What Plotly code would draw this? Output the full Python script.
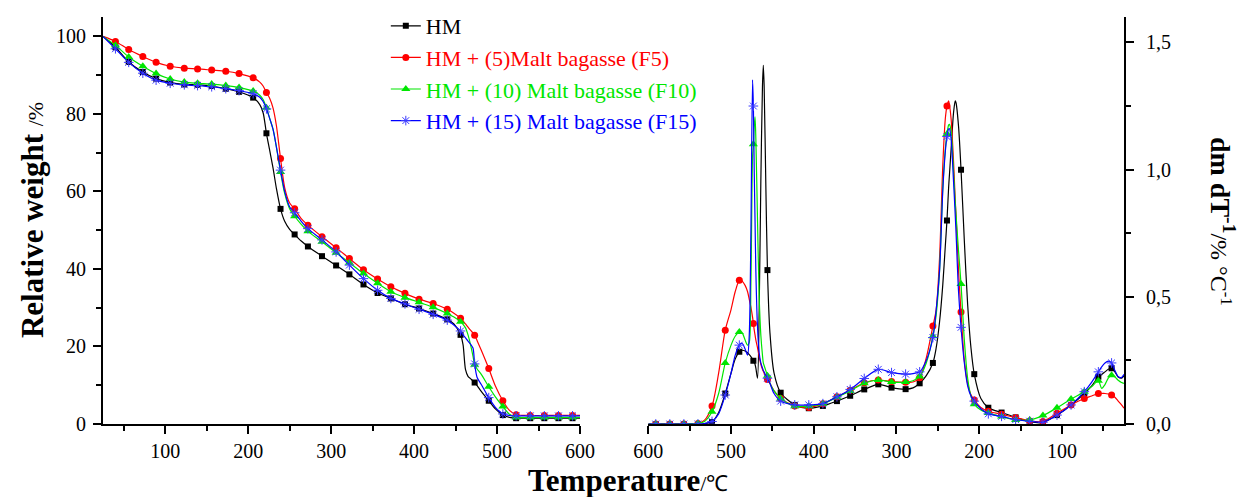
import plotly.graph_objects as go

# ---------------- TGA (relative weight, %) ----------------
TGA_T = [25, 40, 56, 73, 89, 106, 123, 139, 156,
         173, 189, 206, 214, 218, 222, 226, 230, 234,
         239, 244, 250, 256, 264, 272, 289, 306, 322,
         339, 356, 372, 389, 406, 423, 440, 448, 456,
         459, 462, 465, 468, 471, 473, 476, 481, 490,
         498, 507, 515, 523, 540, 557, 574, 591, 600]

TGA_HM = [100.0, 97.2, 93.4, 90.8, 89.1, 88.1, 87.6, 87.5, 87.2,
          86.5, 85.7, 84.2, 82.4, 80.3, 75.0, 70.5, 66.0, 60.8,
          55.5, 52.3, 50.2, 48.9, 47.2, 45.8, 43.3, 40.9, 38.6,
          36.0, 33.8, 32.4, 30.9, 29.8, 28.5, 27.0, 25.8, 23.0,
          20.5, 14.0, 12.3, 11.7, 11.1, 10.7, 9.9, 8.4, 6.0,
          3.9, 2.3, 1.7, 1.5, 1.5, 1.5, 1.5, 1.5, 1.5]

TGA_F5 = [100.0, 98.7, 96.6, 94.8, 93.3, 92.3, 91.8, 91.6, 91.3,
          91.0, 90.4, 89.3, 88.2, 87.2, 85.5, 84.0, 81.5, 77.0,
          68.5, 61.0, 57.0, 55.5, 53.0, 51.3, 48.3, 45.5, 42.7,
          39.8, 37.4, 35.4, 33.7, 32.2, 31.1, 29.6, 28.6, 27.3,
          26.6, 25.8, 25.0, 24.2, 23.5, 22.9, 21.5, 19.0, 14.3,
          9.8, 6.0, 3.5, 2.4, 2.2, 2.2, 2.2, 2.2, 2.2]

TGA_F10 = [100.0, 97.7, 94.7, 92.3, 90.4, 89.0, 88.2, 87.9, 87.7,
           87.3, 86.8, 85.9, 84.8, 83.7, 81.6, 78.8, 76.0, 71.5,
           65.0, 59.5, 55.5, 53.6, 51.5, 49.7, 47.0, 44.2, 41.6,
           38.8, 36.3, 34.1, 32.6, 31.4, 30.1, 28.5, 27.6, 26.4,
           25.7, 24.8, 23.0, 20.5, 17.5, 15.3, 14.2, 12.8, 9.6,
           7.0, 4.5, 2.5, 1.7, 1.7, 1.7, 1.7, 1.7, 1.7]

TGA_F15 = [100.0, 96.8, 93.3, 90.5, 88.7, 87.9, 87.5, 87.3, 87.0,
           86.5, 86.0, 85.2, 84.3, 83.2, 81.3, 78.8, 76.0, 71.5,
           65.5, 60.0, 56.0, 54.5, 52.3, 50.4, 47.5, 44.4, 41.0,
           37.5, 34.5, 32.4, 31.0, 29.6, 28.3, 26.8, 25.5, 24.0,
           23.0, 22.2, 21.4, 20.6, 19.6, 15.5, 12.0, 10.2, 6.8,
           4.3, 2.6, 2.2, 2.1, 2.1, 2.1, 2.1, 2.1, 2.1]

# ---------------- DTG (dm/dT, % per degC) ----------------
DTG_T = [25, 28, 32, 36, 40, 44, 48, 52, 56,
         64, 73, 89, 106, 123, 139, 156, 173, 189,
         198, 206, 210, 214, 218, 222, 225, 228, 229,
         231, 234, 236, 237, 239, 241, 244, 248, 252,
         256, 264, 272, 280, 289, 306, 322, 339, 356,
         372, 389, 406, 423, 440, 448, 453, 456, 458,
         460, 461, 462, 464, 466, 468, 470, 471, 472,
         473, 474, 476, 478, 480, 483, 486, 488, 490,
         495, 500, 507, 515, 523, 532, 540, 557, 574,
         591, 600]

DTG_HM = [0.190, 0.180, 0.185, 0.205, 0.219, 0.215, 0.205, 0.195, 0.186,
          0.150, 0.120, 0.075, 0.035, 0.006, 0.009, 0.026, 0.045, 0.064,
          0.100, 0.196, 0.300, 0.470, 0.720, 1.000, 1.170, 1.262, 1.270,
          1.225, 1.080, 0.980, 0.930, 0.800, 0.700, 0.550, 0.400, 0.300,
          0.240, 0.190, 0.160, 0.142, 0.137, 0.143, 0.156, 0.136, 0.111,
          0.090, 0.071, 0.062, 0.075, 0.123, 0.200, 0.360, 0.605, 0.950,
          1.330, 1.410, 1.330, 0.950, 0.450, 0.180, 0.220, 0.235, 0.243,
          0.249, 0.255, 0.265, 0.273, 0.280, 0.287, 0.290, 0.288, 0.284,
          0.255, 0.200, 0.120, 0.045, 0.008, 0.002, 0.000, 0.000, 0.000,
          0.000, 0.000]

DTG_F5 = [0.062, 0.075, 0.090, 0.105, 0.114, 0.118, 0.120, 0.120, 0.120,
          0.110, 0.100, 0.075, 0.042, 0.010, 0.012, 0.025, 0.038, 0.050,
          0.065, 0.094, 0.115, 0.160, 0.250, 0.440, 0.600, 0.820, 0.880,
          1.030, 1.200, 1.255, 1.270, 1.250, 1.200, 1.020, 0.650, 0.450,
          0.385, 0.260, 0.182, 0.165, 0.164, 0.167, 0.173, 0.162, 0.133,
          0.107, 0.080, 0.065, 0.071, 0.100, 0.130, 0.160, 0.175, 0.185,
          0.200, 0.207, 0.215, 0.235, 0.265, 0.300, 0.330, 0.350, 0.370,
          0.395, 0.420, 0.460, 0.490, 0.520, 0.545, 0.560, 0.565, 0.565,
          0.520, 0.450, 0.369, 0.200, 0.071, 0.015, 0.002, 0.000, 0.000,
          0.000, 0.000]

DTG_F10 = [0.160, 0.163, 0.172, 0.185, 0.192, 0.180, 0.155, 0.140, 0.170,
           0.147, 0.127, 0.098, 0.064, 0.033, 0.016, 0.016, 0.029, 0.043,
           0.055, 0.078, 0.110, 0.180, 0.330, 0.550, 0.680, 0.820, 0.870,
           0.990, 1.150, 1.178, 1.175, 1.140, 1.080, 0.930, 0.600, 0.430,
           0.345, 0.240, 0.187, 0.170, 0.165, 0.165, 0.173, 0.160, 0.130,
           0.105, 0.080, 0.070, 0.070, 0.100, 0.130, 0.160, 0.190, 0.210,
           0.230, 0.240, 0.270, 0.350, 0.500, 0.800, 1.120, 1.207, 1.170,
           1.100, 1.050, 0.550, 0.320, 0.310, 0.330, 0.355, 0.360, 0.362,
           0.345, 0.310, 0.240, 0.120, 0.048, 0.010, 0.002, 0.000, 0.000,
           0.000, 0.000]

DTG_F15 = [0.195, 0.183, 0.186, 0.210, 0.240, 0.247, 0.240, 0.225, 0.205,
           0.165, 0.127, 0.075, 0.035, 0.007, 0.011, 0.017, 0.030, 0.040,
           0.060, 0.090, 0.110, 0.150, 0.240, 0.380, 0.520, 0.750, 0.820,
           0.950, 1.120, 1.161, 1.160, 1.130, 1.070, 0.920, 0.600, 0.450,
           0.340, 0.250, 0.205, 0.198, 0.196, 0.202, 0.215, 0.179, 0.136,
           0.107, 0.080, 0.075, 0.075, 0.090, 0.120, 0.160, 0.180, 0.190,
           0.205, 0.210, 0.220, 0.240, 0.280, 0.380, 0.600, 0.800, 1.000,
           1.250, 1.353, 0.750, 0.350, 0.271, 0.295, 0.315, 0.317, 0.310,
           0.270, 0.200, 0.114, 0.040, 0.010, 0.002, 0.000, 0.000, 0.000,
           0.000, 0.000]

# temperatures at which symbols are placed along each curve
MARK_T = [40, 56, 73, 89, 106, 123, 139, 156, 173, 189, 206, 222, 239, 256,
          272, 289, 306, 322, 339, 356, 372, 389, 406, 423, 440, 456, 473,
          490, 507, 523, 540, 557, 574, 591]

NAMES = ["HM", "HM + (5)Malt bagasse (F5)", "HM + (10) Malt bagasse (F10)",
         "HM + (15) Malt bagasse (F15)"]
COLORS = ["#000000", "#FF0000", "#00E600", "#0000FF"]
SYMBOLS = ["square", "circle", "triangle-up", "asterisk-open"]
SIZES = [6, 7, 8, 8]
TGA_SERIES = [TGA_HM, TGA_F5, TGA_F10, TGA_F15]
DTG_SERIES = [DTG_HM, DTG_F5, DTG_F10, DTG_F15]

SERIF = "Liberation Serif, Times New Roman, serif"
mark_set = set(MARK_T)

# plot region in pixels: top margin kept small so the legend sits inside the
# paper area; the axes stop a little below the top via their domain
MARGIN_T, MARGIN_B = 5, 73
PAPER_H = 497 - MARGIN_T - MARGIN_B
AXIS_TOP = 17
Y_DOMAIN_TOP = (497 - MARGIN_B - AXIS_TOP) / PAPER_H


def py(pixel_y):
    """pixel row -> paper y coordinate"""
    return (497 - MARGIN_B - pixel_y) / PAPER_H


def marker_style(i):
    if SYMBOLS[i] == "asterisk-open":
        return dict(symbol="asterisk-open", size=SIZES[i], color="#3A3AFF",
                    line=dict(color="#3A3AFF", width=1))
    return dict(symbol=SYMBOLS[i], size=SIZES[i], color=COLORS[i],
                line=dict(width=0))


fig = go.Figure()

for i in range(4):
    for xs, ys, xa, ya in [(TGA_T, TGA_SERIES[i], "x", "y"),
                           (DTG_T, DTG_SERIES[i], "x2", "y2")]:
        assert len(xs) == len(ys)
        fig.add_trace(go.Scatter(
            x=xs, y=ys, xaxis=xa, yaxis=ya, mode="lines",
            line=dict(color=COLORS[i], width=1.2, shape="spline", smoothing=0.8),
            showlegend=False, hoverinfo="skip"))
        mx = [t for t in xs if t in mark_set]
        my = [v for t, v in zip(xs, ys) if t in mark_set]
        fig.add_trace(go.Scatter(
            x=mx, y=my, xaxis=xa, yaxis=ya, mode="markers",
            marker=marker_style(i), showlegend=False, hoverinfo="skip"))
    # legend entry
    fig.add_trace(go.Scatter(
        x=[None], y=[None], xaxis="x", yaxis="y", mode="lines+markers",
        line=dict(color=COLORS[i], width=1.2), marker=marker_style(i),
        name='<span style="color:%s">%s</span>' % (COLORS[i], NAMES[i])))

axis_common = dict(
    showline=True, linecolor="black", linewidth=2, mirror=False,
    showgrid=False, zeroline=False, ticks="outside", ticklen=8, tickwidth=1.6,
    tickcolor="black", tickfont=dict(family=SERIF, size=20, color="black"),
)

fig.update_layout(
    width=1244, height=497,
    margin=dict(l=103, r=120, t=MARGIN_T, b=MARGIN_B, autoexpand=False),
    paper_bgcolor="white", plot_bgcolor="white",
    separators=",.",
    font=dict(family=SERIF, color="black"),
    xaxis=dict(domain=[0, 0.4672], range=[25, 600], anchor="y",
               tick0=0, dtick=100,
               minor=dict(ticks="outside", ticklen=5, dtick=50, tick0=0,
                          tickcolor="black", tickwidth=1.6),
               **axis_common),
    yaxis=dict(domain=[0, Y_DOMAIN_TOP], range=[0, 105], anchor="x",
               tick0=0, dtick=20, ticklabelstandoff=3,
               minor=dict(ticks="outside", ticklen=5, dtick=10, tick0=0,
                          tickcolor="black", tickwidth=1.6),
               **axis_common),
    xaxis2=dict(domain=[0.5341, 1], range=[600, 25], anchor="y2",
                tick0=0, dtick=100,
                minor=dict(ticks="outside", ticklen=5, dtick=50, tick0=0,
                           tickcolor="black", tickwidth=1.6),
                **axis_common),
    yaxis2=dict(domain=[0, Y_DOMAIN_TOP], range=[0, 1.6], anchor="x2", side="right",
                tick0=0, dtick=0.5, tickformat=".1f", ticklabelstandoff=8,
                minor=dict(ticks="outside", ticklen=5, dtick=0.25, tick0=0,
                           tickcolor="black", tickwidth=1.6),
                **axis_common),
    legend=dict(x=0.277, y=py(5), xanchor="left", yanchor="top",
                bgcolor="rgba(0,0,0,0)", borderwidth=0,
                font=dict(family=SERIF, size=22),
                tracegroupgap=0, itemwidth=30),
)

fig.add_annotation(
    xref="paper", yref="paper", x=0.514, y=py(480), xanchor="center", yanchor="middle",
    showarrow=False,
    text='<b>Temperature</b><span style="font-size:22px">/℃</span>',
    font=dict(family=SERIF, size=31, color="black"))

fig.add_annotation(
    xref="paper", yref="paper", x=-0.0695, y=py(220), xanchor="center", yanchor="middle",
    showarrow=False, textangle=-90,
    text='<b>Relative weight </b><span style="font-size:22px">/%</span>',
    font=dict(family=SERIF, size=31, color="black"))

fig.add_annotation(
    xref="paper", yref="paper", x=1.097, y=py(221), xanchor="center", yanchor="middle",
    showarrow=False, textangle=90,
    text='<b>dm dT<sup>-1</sup></b><span style="font-size:24px">/% °C<sup>-1</sup></span>',
    font=dict(family=SERIF, size=28, color="black"))

fig.write_html("out.html")
